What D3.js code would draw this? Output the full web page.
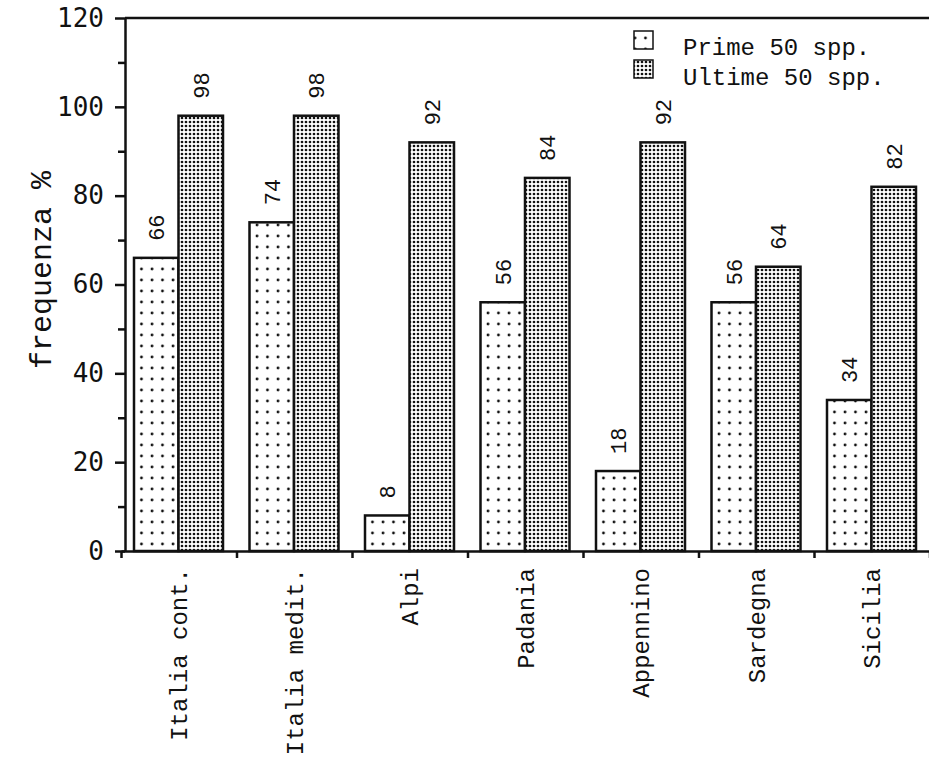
<!DOCTYPE html>
<html><head><meta charset="utf-8">
<script src="https://cdn.jsdelivr.net/npm/d3@7"></script>
<style>body{margin:0;background:#fff}svg{display:block}</style>
</head><body><svg id="c" width="929" height="766"></svg>
<script>
const categories = ["Italia cont.","Italia medit.","Alpi","Padania","Appennino","Sardegna","Sicilia"];
const seriesNames = ["Prime 50 spp.","Ultime 50 spp."];
const prime = [66,74,8,56,18,56,34];
const ultime = [98,98,92,84,92,64,82];
const yTicks = [0,20,40,60,80,100,120];
const yMinor = [10,30,50,70,90,110];

const MONO = "'Liberation Mono','Courier New',Courier,'Nimbus Mono PS',FreeMono,monospace";
const SANSMONO = "'DejaVu Sans Mono',monospace";

const svg = d3.select("#c");
const defs = svg.append("defs");
const p1 = defs.append("pattern").attr("id","pPrime").attr("patternUnits","userSpaceOnUse")
  .attr("width",10.5).attr("height",11);
p1.append("rect").attr("width",10.5).attr("height",11).attr("fill","#fff");
p1.append("circle").attr("cx",5).attr("cy",5).attr("r",1.4).attr("fill","#111");
const p2 = defs.append("pattern").attr("id","pUlt").attr("patternUnits","userSpaceOnUse")
  .attr("width",4).attr("height",4);
p2.append("rect").attr("width",4).attr("height",4).attr("fill","#fff");
p2.append("circle").attr("cx",2).attr("cy",2).attr("r",1.35).attr("fill","#111");
const fills = ["url(#pPrime)","url(#pUlt)"];

const y = d3.scaleLinear().domain([0,120]).range([551,18]);
const x = d3.scaleBand().domain(categories).range([121,929.5]).padding(0);
const xs = d3.scaleBand().domain([0,1]).range([13,102]).padding(0);

const data = categories.map((c,i)=>({c, v:[prime[i], ultime[i]]}));

// bars
const g = svg.append("g");
data.forEach(d=>{
  d.v.forEach((v,k)=>{
    const bx = x(d.c)+xs(k);
    g.append("rect").attr("x",bx).attr("y",y(v)).attr("width",xs.bandwidth()).attr("height",y(0)-y(v))
      .attr("fill",fills[k]).attr("stroke","#111").attr("stroke-width",2.5);
    g.append("text").attr("transform",`translate(${bx+xs.bandwidth()/2},${y(v)-17}) rotate(-90)`)
      .attr("dy","0.36em").attr("text-anchor","start")
      .attr("font-family",MONO).attr("font-size",22).attr("fill","#111").text(v);
  });
});

// top border
svg.append("line").attr("x1",125).attr("x2",929).attr("y1",y(120)).attr("y2",y(120))
  .attr("stroke","#111").attr("stroke-width",2.5);

// y axis
const yAxis = d3.axisLeft(y).tickValues(yTicks).tickSize(10).tickSizeOuter(0).tickPadding(11);
const ya = svg.append("g").attr("transform","translate(125,0)").call(yAxis);
ya.select(".domain").attr("stroke","#111").attr("stroke-width",2.5);
ya.selectAll(".tick line").attr("stroke","#111").attr("stroke-width",2.5);
ya.selectAll("text").attr("font-family",SANSMONO).attr("font-size",26).attr("fill","#111");
const yMin = d3.axisLeft(y).tickValues(yMinor).tickSize(7).tickFormat("");
const ym = svg.append("g").attr("transform","translate(125,0)").call(yMin);
ym.select(".domain").remove();
ym.selectAll(".tick line").attr("stroke","#111").attr("stroke-width",2.5);

// x axis
const xb = d3.scaleLinear().domain([0,categories.length]).range([121,929.5]);
const xAxis = d3.axisBottom(xb).tickValues(d3.range(0,categories.length+1)).tickSize(7).tickSizeOuter(0).tickFormat("");
const xa = svg.append("g").attr("transform",`translate(0,${y(0)})`).call(xAxis);
xa.select(".domain").attr("stroke","#111").attr("stroke-width",2.5);
xa.selectAll(".tick line").attr("stroke","#111").attr("stroke-width",2.5);

// category labels
svg.append("g").selectAll("text").data(categories).join("text")
  .attr("transform",d=>`translate(${x(d)+x.bandwidth()/2},568) rotate(-90)`)
  .attr("dy","0.36em").attr("text-anchor","end")
  .attr("font-family",MONO).attr("font-size",24).attr("fill","#111").text(d=>d);

// y title
svg.append("text").attr("transform","translate(40,270) rotate(-90)")
  .attr("dy","0.36em").attr("text-anchor","middle")
  .attr("font-family",MONO).attr("font-size",30).attr("fill","#111").text("frequenza %");

// legend
const lg = svg.append("g");
seriesNames.forEach((s,k)=>{
  lg.append("rect").attr("x",634).attr("y",31+k*29).attr("width",19).attr("height",18)
    .attr("fill",fills[k]).attr("stroke","#111").attr("stroke-width",1.5);
  lg.append("text").attr("x",683).attr("y",55+k*30)
    .attr("font-family",MONO).attr("font-size",24).attr("fill","#111").text(s);
});
</script></body></html>
